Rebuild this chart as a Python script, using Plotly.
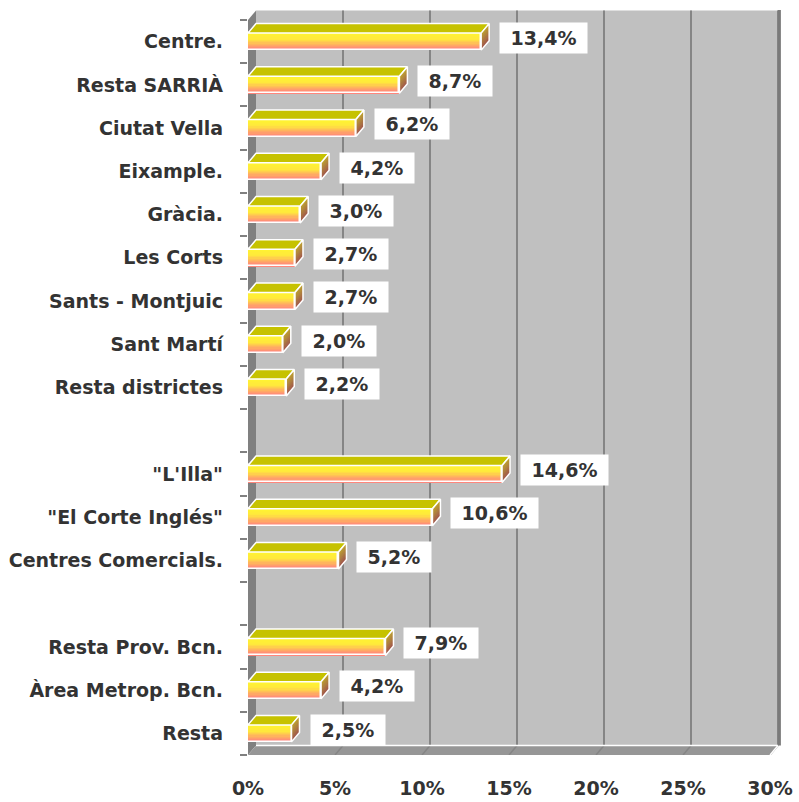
import plotly.graph_objects as go

# ---------------- data ----------------
categories = ["Centre.", "Resta SARRIÀ", "Ciutat Vella", "Eixample.", "Gràcia.",
              "Les Corts", "Sants - Montjuic", "Sant Martí", "Resta districtes", "",
              "\"L'Illa\"", "\"El Corte Inglés\"", "Centres Comercials.", "",
              "Resta Prov. Bcn.", "Àrea Metrop. Bcn.", "Resta"]
values = [13.4, 8.7, 6.2, 4.2, 3.0, 2.7, 2.7, 2.0, 2.2, None,
          14.6, 10.6, 5.2, None, 7.9, 4.2, 2.5]
x_tickvals = [0, 5, 10, 15, 20, 25, 30]
x_ticktext = ["0%", "5%", "10%", "15%", "20%", "25%", "30%"]

# ---------------- geometry / style ----------------
W, Hfig = 799, 802
ML, MR, MT, MB = 248, 17, 10, 47
PX_X = 17.4          # px per percent
N = len(categories)
PX_Y = (Hfig - MT - MB) / (N + 10 / 43.235)
DX = 8 / PX_X        # 3D depth, horizontal (data units)
DY = 9.5 / PX_Y      # 3D depth, vertical (slots)
HB = 8.5 / PX_Y      # half height of bar front face
XMAX = 30
xr_max = (W - ML - MR) / PX_X
y_top = -0.5 - MT / PX_Y

FONT = "DejaVu Sans"
TXT = "#333333"


def hex2rgb(h):
    h = h.lstrip("#")
    return [int(h[i:i + 2], 16) for i in (0, 2, 4)]


def interp(scale, f):
    for (f0, c0), (f1, c1) in zip(scale[:-1], scale[1:]):
        if f0 <= f <= f1:
            a, b = hex2rgb(c0), hex2rgb(c1)
            t = 0 if f1 == f0 else (f - f0) / (f1 - f0)
            r = [round(a[j] + (b[j] - a[j]) * t) for j in range(3)]
            return f"rgb({r[0]},{r[1]},{r[2]})"
    return scale[-1][1]


def path(pts):
    return "M " + " L ".join(f"{x},{y}" for x, y in pts) + " Z"


fig = go.Figure()

yb = N - 0.5
shapes = []
# back wall
shapes.append(dict(type="path", xref="x", yref="y", layer="below",
                   path=path([(DX, -0.5 - DY), (XMAX + DX, -0.5 - DY),
                              (XMAX + DX, yb - DY), (DX, yb - DY)]),
                   fillcolor="#c0c0c0", line=dict(width=0)))
# left wall
shapes.append(dict(type="path", xref="x", yref="y", layer="below",
                   path=path([(0, -0.5), (DX, -0.5 - DY), (DX, yb - DY), (0, yb)]),
                   fillcolor="#808080", line=dict(width=0)))
# floor
shapes.append(dict(type="path", xref="x", yref="y", layer="below",
                   path=path([(0, yb), (DX, yb - DY), (XMAX + DX, yb - DY), (XMAX, yb)]),
                   fillcolor="#969696", line=dict(width=0)))
# gridlines on back wall + floor
for xv in x_tickvals[1:]:
    shapes.append(dict(type="line", xref="x", yref="y", layer="below",
                       x0=xv + DX, x1=xv + DX, y0=-0.5 - DY, y1=yb - DY,
                       line=dict(color="#858585", width=2)))
    shapes.append(dict(type="line", xref="x", yref="y", layer="below",
                       x0=xv + DX, x1=xv, y0=yb - DY, y1=yb,
                       line=dict(color="#858585", width=1.5)))
# floor back edge (white)
shapes.append(dict(type="line", xref="x", yref="y", layer="below",
                   x0=DX, x1=XMAX + DX, y0=yb - DY, y1=yb - DY,
                   line=dict(color="white", width=1.5)))
shapes.append(dict(type="line", xref="x", yref="y", layer="below",
                   x0=XMAX + DX, x1=XMAX, y0=yb - DY, y1=yb,
                   line=dict(color="white", width=1.5)))
# right edge of back wall
shapes.append(dict(type="line", xref="x", yref="y", layer="below",
                   x0=XMAX + DX + 0.08, x1=XMAX + DX + 0.08, y0=-0.5 - DY - 0.04, y1=yb - DY,
                   line=dict(color="#7a7a7a", width=3)))
# y axis line
shapes.append(dict(type="line", xref="x", yref="y", layer="above",
                   x0=-0.1, x1=-0.1, y0=-0.5, y1=yb,
                   line=dict(color="#9a9a9a", width=1.5)))

# ---------- bars ----------
pos = [i for i, v in enumerate(values) if v is not None]
vals = [v for v in values if v is not None]

# front face: vertical gradient built from thin horizontal bar strips (top -> bottom)
front_scale = [(0.0, "#fff530"), (0.4, "#ffe83c"), (0.7, "#ffb060"), (1.0, "#ff8080")]
K = 14
sw = 2 * HB / K
for k in range(K):
    col = interp(front_scale, (k + 0.5) / K)
    fig.add_trace(go.Bar(
        y=pos, x=vals, orientation="h", base=0,
        width=sw * 1.35 if k < K - 1 else sw, offset=-HB + k * sw,
        marker=dict(color=col, line=dict(width=0)),
        hoverinfo="skip", showlegend=False))
# white outline of front face
fig.add_trace(go.Bar(
    y=pos, x=vals, orientation="h", base=0, width=2 * HB, offset=-HB,
    marker=dict(color="rgba(0,0,0,0)", line=dict(color="white", width=1.5)),
    hoverinfo="skip", showlegend=False))

# top faces (one polygon per bar)
tx, ty = [], []
for c, v in zip(pos, vals):
    t = c - HB
    tx += [0, v, v + DX, DX, 0, None]
    ty += [t, t, t - DY, t - DY, t, None]
fig.add_trace(go.Scatter(x=tx, y=ty, mode="lines", fill="toself",
                         fillcolor="#c6c200", line=dict(color="white", width=1.5),
                         hoverinfo="skip", showlegend=False))

# side faces: gradient strips (olive-brown -> reddish brown)
side_scale = [(0.0, "#bfa52c"), (0.5, "#ad7c40"), (1.0, "#a0524c")]
KS = 6
for k in range(KS):
    col = interp(side_scale, (k + 0.5) / KS)
    sx, sy = [], []
    f0, f1 = k / KS, min(1.0, (k + 1.3) / KS)
    for c, v in zip(pos, vals):
        t, b = c - HB, c + HB
        y0 = t + (b - t) * f0
        y1 = t + (b - t) * f1
        sx += [v, v + DX, v + DX, v, v, None]
        sy += [y0, y0 - DY, y1 - DY, y1, y0, None]
    fig.add_trace(go.Scatter(x=sx, y=sy, mode="lines", fill="toself",
                             fillcolor=col, line=dict(width=0),
                             hoverinfo="skip", showlegend=False))
# side face outline
ox, oy = [], []
for c, v in zip(pos, vals):
    t, b = c - HB, c + HB
    ox += [v, v + DX, v + DX, v, v, None]
    oy += [t, t - DY, b - DY, b, t, None]
fig.add_trace(go.Scatter(x=ox, y=oy, mode="lines",
                         line=dict(color="white", width=1.5),
                         hoverinfo="skip", showlegend=False))

# data labels
annotations = []
for c, v in zip(pos, vals):
    lbl = f"{v:.1f}".replace(".", ",") + "%"
    annotations.append(dict(
        x=v + DX, y=c - DY / 2, xref="x", yref="y", xanchor="left", yanchor="middle",
        xshift=10, yshift=-1, showarrow=False, text="\u00a0" + lbl + "\u00a0",
        bgcolor="white", borderpad=4,
        font=dict(family=FONT, size=19, color=TXT, weight="bold")))

fig.update_layout(
    width=W, height=Hfig,
    margin=dict(l=ML, r=MR, t=MT, b=MB, autoexpand=False),
    paper_bgcolor="white", plot_bgcolor="white",
    barmode="overlay", bargap=0,
    shapes=shapes, annotations=annotations, showlegend=False,
    xaxis=dict(range=[0, xr_max], tickvals=x_tickvals, ticktext=x_ticktext,
               showgrid=False, zeroline=False, showline=False, ticks="",
               ticklabelstandoff=20, automargin=False,
               tickfont=dict(family=FONT, size=19, color=TXT, weight="bold")),
    yaxis=dict(range=[N - 0.5, y_top], tickvals=list(range(N)), ticktext=categories,
               showgrid=False, zeroline=False, showline=False, ticks="",
               ticklabelstandoff=24, automargin=False,
               tickfont=dict(family=FONT, size=19, color=TXT, weight="bold"),
               minor=dict(tickmode="array", tickvals=[k - 0.5 for k in range(N + 1)],
                          ticks="outside", ticklen=7, tickwidth=2, tickcolor="#808080",
                          showgrid=False)),
)

fig.write_html("out.html", config={"displayModeBar": False},
               post_script="document.body.style.margin='0';")
